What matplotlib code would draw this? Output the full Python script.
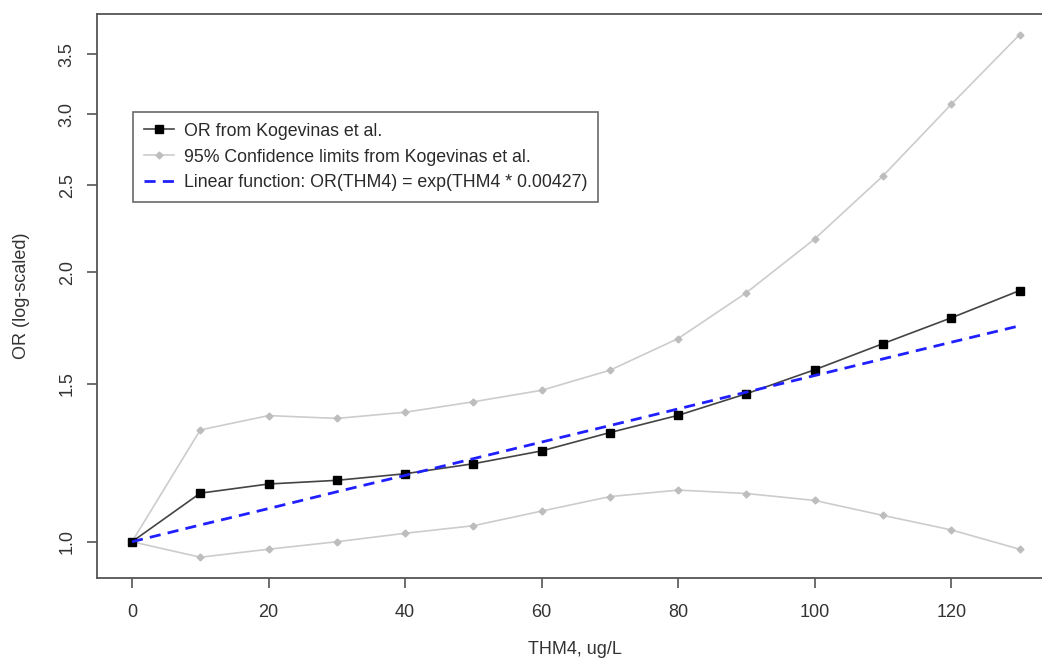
import matplotlib
matplotlib.use('Agg')
import matplotlib.pyplot as plt
from matplotlib.ticker import FixedLocator, NullLocator

# THM4 concentration, ug/L
thm4 = [0, 10, 20, 30, 40, 50, 60, 70, 80, 90, 100, 110, 120, 130]

# Odds ratios and 95% limits
or_vals = [1.000, 1.133, 1.160, 1.171, 1.191, 1.222, 1.263, 1.324, 1.384,
           1.463, 1.556, 1.664, 1.778, 1.907]
ci_upper = [1.000, 1.333, 1.383, 1.373, 1.395, 1.433, 1.476, 1.554, 1.686,
            1.897, 2.178, 2.561, 3.078, 3.681]
ci_lower = [1.000, 0.961, 0.981, 1.000, 1.022, 1.042, 1.082, 1.123, 1.142,
            1.132, 1.112, 1.070, 1.031, 0.981]
linear_fit = [1.000, 1.044, 1.089, 1.137, 1.186, 1.238, 1.292, 1.348, 1.407,
              1.469, 1.533, 1.600, 1.670, 1.742]

x_ticks = [0, 20, 40, 60, 80, 100, 120]
y_ticks = [1.0, 1.5, 2.0, 2.5, 3.0, 3.5]

plt.rcParams['font.family'] = ['Liberation Sans', 'DejaVu Sans']

W, H = 1042, 666
fig = plt.figure(figsize=(W / 100, H / 100), dpi=100)
# right edge of the plot box lies past the picture, as in the original crop
left, right, top, bottom = 96.5, 1055, 13.5, 578
ax = fig.add_axes([left / W, 1 - bottom / H, (right - left) / W, (bottom - top) / H])

ax.plot(thm4, ci_upper, color='#cccccc', lw=1.2, marker='D', ms=3.5,
        mfc='#bdbdbd', mec='#bdbdbd',
        label='95% Confidence limits from Kogevinas et al.')
ax.plot(thm4, ci_lower, color='#cccccc', lw=1.2, marker='D', ms=3.5,
        mfc='#bdbdbd', mec='#bdbdbd')
ax.plot(thm4, or_vals, color='#444444', lw=1.2, marker='s', ms=6,
        mfc='black', mec='black', label='OR from Kogevinas et al.')
ax.plot(thm4, linear_fit, color='#1f1fff', lw=2.0, dashes=(4, 2.6),
        label='Linear function: OR(THM4) = exp(THM4 * 0.00427)')

ax.set_yscale('log')
ax.set_xlim(-5.2, 135.2)
ax.set_ylim(0.911, 3.888)
ax.xaxis.set_major_locator(FixedLocator(x_ticks))
ax.yaxis.set_major_locator(FixedLocator(y_ticks))
ax.yaxis.set_minor_locator(NullLocator())
ax.set_xticklabels([str(t) for t in x_ticks])
ax.set_yticklabels(['%.1f' % t for t in y_ticks], rotation=90, va='center')

ax.tick_params(axis='both', length=7, width=1.2, color='#555555',
               labelsize=13, labelcolor='#333333')
ax.tick_params(axis='x', pad=12)
ax.tick_params(axis='y', pad=8)
for s in ax.spines.values():
    s.set_color('#555555')
    s.set_linewidth(1.3)

fig.text(575 / W, 1 - 650 / H, 'THM4, ug/L', ha='center', va='center',
         fontsize=13, color='#333333')
fig.text(22 / W, 1 - 296 / H, 'OR (log-scaled)', ha='center', va='center',
         rotation=90, fontsize=13, color='#333333')

handles, labels = ax.get_legend_handles_labels()
order = [1, 0, 2]
leg = ax.legend([handles[i] for i in order], [labels[i] for i in order],
                loc='upper left', bbox_to_anchor=((133 - left) / (right - left),
                                                  (bottom - 112) / (bottom - top)),
                borderaxespad=0, fontsize=12.8, frameon=True, fancybox=False,
                handlelength=1.7, handletextpad=0.55, borderpad=0.6,
                labelspacing=0.5, labelcolor='#2a2a2a')
leg.get_frame().set_edgecolor('#444444')
leg.get_frame().set_linewidth(1.2)

fig.savefig('out.png', dpi=100)
